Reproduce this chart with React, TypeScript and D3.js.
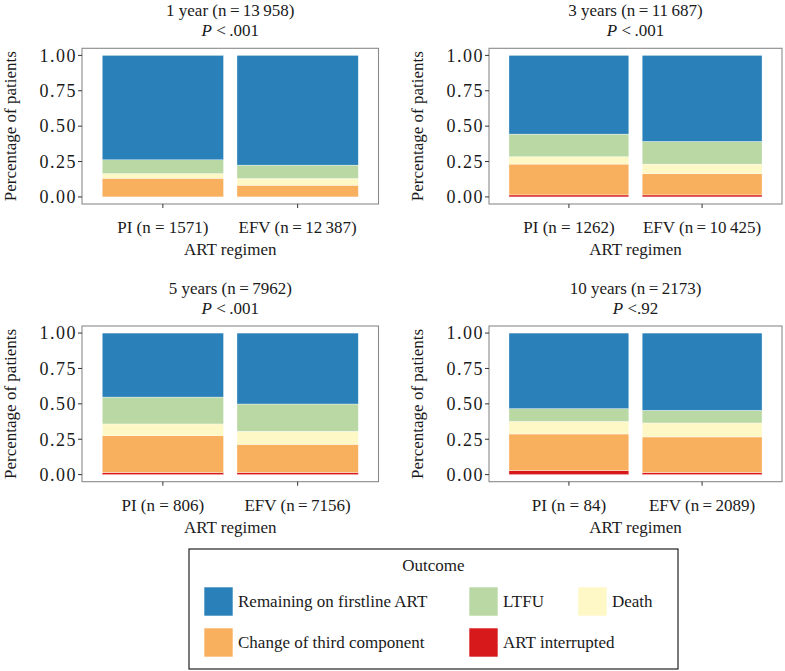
import React from "react";
import * as d3 from "d3";

const outcomes = ["ART interrupted", "Change of third component", "Death", "LTFU", "Remaining on firstline ART"];
const colors = ["#d7191c", "#f8b05e", "#fef8c6", "#b9d8a4", "#2a80b9"];
const regimens = ["PI", "EFV"];
const yTicks = [0, 0.25, 0.5, 0.75, 1];

const panelTitles = ["1 year (n\u2009=\u200913\u2009958)", "3 years (n\u2009=\u200911\u2009687)", "5 years (n\u2009=\u20097962)", "10 years (n\u2009=\u20092173)"];
const panelP = ["<\u2009.001", "<\u2009.001", "<\u2009.001", "<.92"];
const xLabels = [
  ["PI (n = 1571)", "EFV (n\u2009=\u200912\u2009387)"],
  ["PI (n = 1262)", "EFV (n\u2009=\u200910\u2009425)"],
  ["PI (n = 806)", "EFV (n\u2009=\u20097156)"],
  ["PI (n = 84)", "EFV (n\u2009=\u20092089)"],
];

// proportions per outcome (order as outcomes), [PI, EFV]
const year1 = [[0.0, 0.132, 0.033, 0.097, 0.738], [0.0, 0.083, 0.047, 0.095, 0.775]];
const year3 = [[0.014, 0.218, 0.052, 0.160, 0.556], [0.014, 0.149, 0.069, 0.160, 0.608]];
const year5 = [[0.014, 0.261, 0.083, 0.190, 0.452], [0.014, 0.200, 0.092, 0.193, 0.501]];
const year10 = [[0.028, 0.259, 0.089, 0.090, 0.534], [0.014, 0.252, 0.099, 0.089, 0.546]];
const panelData = [year1, year3, year5, year10];

const legendOrder = [4, 3, 2, 1, 0];

const FONT = "'Liberation Serif', 'Times New Roman', Tinos, Times, 'DejaVu Serif', 'Noto Serif', Georgia, serif";

function T(props: any) {
  return <text style={{ fontFamily: FONT }} fill="#1a1a1a" {...props} />;
}

function Panel({ idx, x0, x1, yTop, yBot }: { idx: number; x0: number; x1: number; yTop: number; yBot: number }) {
  const x = d3.scalePoint<string>().domain(regimens).range([x0, x1]).padding(0.6);
  const step = x.step();
  const bw = step * 0.9;
  const y = d3.scaleLinear().domain([-0.05, 1.05]).range([yBot, yTop]);
  const data = panelData[idx];
  const cx = (x0 + x1) / 2;
  const cy = (yTop + yBot) / 2;
  return (
    <g>
      <T x={cx} y={yTop - 32} textAnchor="middle" fontSize={17}>{panelTitles[idx]}</T>
      <T x={cx} y={yTop - 12} textAnchor="middle" fontSize={17}>
        <tspan fontStyle="italic">P</tspan> {panelP[idx]}
      </T>
      <rect x={x0} y={yTop} width={x1 - x0} height={yBot - yTop} fill="white" />
      {regimens.map((r, ri) => {
        const stack = d3.cumsum(data[ri]);
        return (
          <g key={r}>
            {data[ri].map((v, k) => {
              const top = stack[k];
              const bot = top - v;
              if (v <= 0) return null;
              return (
                <rect key={k} x={(x(r) as number) - bw / 2} width={bw} y={y(top)} height={y(bot) - y(top)}
                  fill={colors[k]} stroke="white" strokeWidth={0.35} />
              );
            })}
          </g>
        );
      })}
      <rect x={x0} y={yTop} width={x1 - x0} height={yBot - yTop} fill="none" stroke="#8a8a8a" strokeWidth={1.1} />
      {yTicks.map((t) => (
        <g key={t}>
          <line x1={x0 - 4} x2={x0} y1={y(t)} y2={y(t)} stroke="#333" strokeWidth={1} />
          <T x={x0 - 5} y={y(t)} dy="0.35em" textAnchor="end" fontSize={18} letterSpacing={1.5}>{t.toFixed(2)}</T>
        </g>
      ))}
      {regimens.map((r, ri) => (
        <g key={r}>
          <line x1={x(r)} x2={x(r)} y1={yBot} y2={yBot + 4} stroke="#333" strokeWidth={1} />
          <T x={x(r)} y={yBot + 29} textAnchor="middle" fontSize={17}>{xLabels[idx][ri]}</T>
        </g>
      ))}
      <T x={cx} y={yBot + 51} textAnchor="middle" fontSize={17}>ART regimen</T>
      <T transform={`translate(${x0 - 66},${cy}) rotate(-90)`} textAnchor="middle" fontSize={17}>Percentage of patients</T>
    </g>
  );
}

export default function App() {
  const cols = [[82, 378.5], [489, 782]];
  const rows = [[48.3, 204], [326, 481.7]];
  const keySize = 29;
  const keyCols = [204, 469, 578];
  const keyRows = [587, 628];
  return (
    <svg width={785} height={671} style={{ position: "absolute", left: 0, top: 0, fontFamily: FONT }}>
      <rect width={785} height={671} fill="white" />
      {[0, 1, 2, 3].map((i) => (
        <Panel key={i} idx={i} x0={cols[i % 2][0]} x1={cols[i % 2][1]} yTop={rows[Math.floor(i / 2)][0]} yBot={rows[Math.floor(i / 2)][1]} />
      ))}
      <rect x={189} y={549} width={489} height={120} fill="white" stroke="#222" strokeWidth={1.2} />
      <T x={433.5} y={571} textAnchor="middle" fontSize={17}>Outcome</T>
      {legendOrder.map((k, i) => {
        const c = i % 3;
        const r = Math.floor(i / 3);
        return (
          <g key={k}>
            <rect x={keyCols[c]} y={keyRows[r]} width={keySize} height={keySize} fill={colors[k]} stroke="white" strokeWidth={0.6} />
            <T x={keyCols[c] + keySize + 5} y={keyRows[r] + keySize / 2} dy="0.35em" fontSize={17}>{outcomes[k]}</T>
          </g>
        );
      })}
    </svg>
  );
}
